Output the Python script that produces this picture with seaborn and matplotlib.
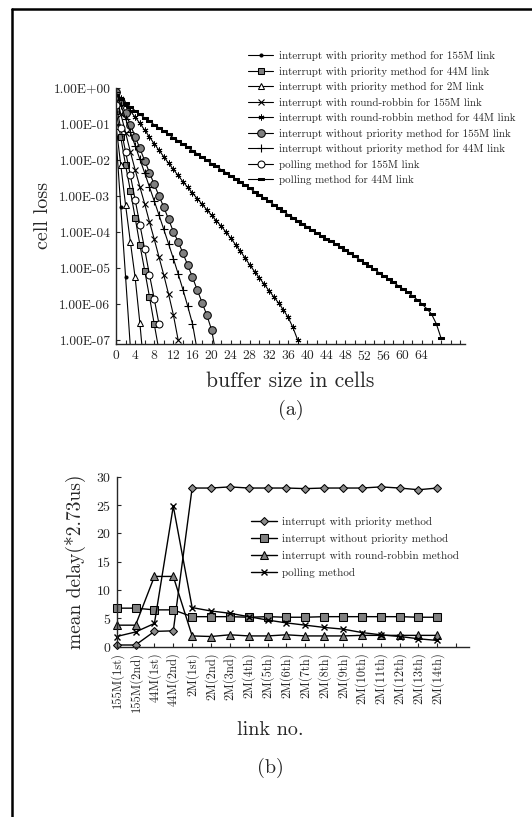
import numpy as np
import matplotlib
matplotlib.use("Agg")
import matplotlib.pyplot as plt
from matplotlib.lines import Line2D
from matplotlib.ticker import MultipleLocator, NullLocator
import seaborn as sns

# ---- (a) cell loss vs buffer size, values given as log10(cell loss) ----
x_prio155 = [0, 1, 2, 3]
e_prio155 = [-1.35, -3.31, -5.24, -7.2]

x_prio44 = [0, 1, 2, 3, 4, 5, 6, 7, 8, 9]
e_prio44 = [-0.63, -1.37, -2.14, -2.85, -3.6, -4.36, -5.07, -5.8, -6.56, -7.3]

x_prio2 = [0, 1, 2, 3, 4, 5, 6]
e_prio2 = [-1.05, -2.14, -3.25, -4.27, -5.26, -6.54, -8.0]

x_rr155 = list(range(14))
e_rr155 = [-0.2, -0.72, -1.24, -1.77, -2.27, -2.75, -3.22, -3.72, -4.2, -4.7,
           -5.2, -5.73, -6.3, -7.0]

x_rr44 = list(range(39))
e_rr44 = [-0.10, -0.28, -0.46, -0.64, -0.81, -0.98, -1.17, -1.36, -1.55, -1.73,
          -1.91, -2.09, -2.26, -2.43, -2.60, -2.76, -2.92, -3.07, -3.23, -3.38,
          -3.54, -3.69, -3.84, -4.00, -4.17, -4.35, -4.53, -4.72, -4.92, -5.10,
          -5.28, -5.45, -5.63, -5.80, -5.97, -6.16, -6.37, -6.65, -7.0]

x_noprio155 = list(range(22))
e_noprio155 = [-0.1, -0.38, -0.7, -1.02, -1.35, -1.68, -2.02, -2.35, -2.68, -3.0,
               -3.31, -3.65, -3.99, -4.27, -4.59, -4.92, -5.26, -5.61, -5.96, -6.31,
               -6.72, -7.45]

x_noprio44 = list(range(18))
e_noprio44 = [-0.1, -0.47, -0.85, -1.22, -1.6, -1.98, -2.36, -2.75, -3.14, -3.53,
              -3.93, -4.33, -4.74, -5.16, -5.6, -6.06, -6.55, -7.3]

x_poll155 = list(range(10))
e_poll155 = [-0.47, -1.12, -1.77, -2.42, -3.1, -3.8, -4.48, -5.19, -5.86, -6.56]

x_poll44 = list(range(69))
e_poll44 = [-0.20, -0.31, -0.42, -0.52, -0.63, -0.73, -0.83, -0.93, -1.02, -1.11,
            -1.20, -1.29, -1.38, -1.47, -1.56, -1.65, -1.74, -1.83, -1.92, -2.01,
            -2.10, -2.18, -2.27, -2.35, -2.44, -2.52, -2.61, -2.70, -2.79, -2.88,
            -2.97, -3.06, -3.15, -3.24, -3.34, -3.43, -3.52, -3.60, -3.69, -3.77,
            -3.86, -3.95, -4.03, -4.11, -4.19, -4.26, -4.34, -4.42, -4.50, -4.59,
            -4.68, -4.77, -4.86, -4.95, -5.04, -5.13, -5.22, -5.31, -5.40, -5.49,
            -5.58, -5.67, -5.77, -5.88, -6.00, -6.13, -6.28, -6.55, -6.95]

ytick_labels_a = ["1.00E+00", "1.00E-01", "1.00E-02", "1.00E-03",
                  "1.00E-04", "1.00E-05", "1.00E-06", "1.00E-07"]

# ---- (b) mean delay per link ----
links = ["155M(1st)", "155M(2nd)", "44M(1st)", "44M(2nd)", "2M(1st)", "2M(2nd)",
         "2M(3nd)", "2M(4th)", "2M(5th)", "2M(6th)", "2M(7th)", "2M(8th)",
         "2M(9th)", "2M(10th)", "2M(11th)", "2M(12th)", "2M(13th)", "2M(14th)"]
d_prio = [0.3, 0.3, 2.7, 2.8, 28.0, 28.0, 28.2, 28.0, 28.0, 28.0, 27.9, 28.0,
          28.0, 28.0, 28.2, 28.0, 27.7, 28.0]
d_noprio = [6.8, 6.8, 6.5, 6.5, 5.3, 5.3, 5.3, 5.2, 5.3, 5.2, 5.2, 5.3,
            5.3, 5.3, 5.3, 5.3, 5.2, 5.2]
d_rr = [3.8, 3.8, 12.4, 12.4, 1.9, 1.8, 2.1, 1.9, 1.9, 2.1, 1.9, 1.9,
        1.9, 2.0, 2.0, 2.0, 2.0, 2.0]
d_poll = [1.8, 2.6, 4.1, 24.8, 6.9, 6.3, 5.9, 5.3, 4.7, 4.2, 3.8, 3.4,
          3.1, 2.5, 2.1, 1.8, 1.4, 1.1]

sns.set_style("ticks")
plt.rcParams["font.family"] = ["cmr10", "DejaVu Serif"]
plt.rcParams["axes.formatter.use_mathtext"] = True

fig = plt.figure(figsize=(5.32, 8.17), dpi=100)

# frame around the figure (left and top edges visible)
fig.add_artist(Line2D([12 / 532, 12 / 532], [0, 1 - 9 / 817], transform=fig.transFigure,
                      color="black", lw=1.8))
fig.add_artist(Line2D([12 / 532, 1], [1 - 9 / 817, 1 - 9 / 817], transform=fig.transFigure,
                      color="black", lw=1.8))

ax1 = fig.add_axes([116 / 532, 1 - 343.6 / 817, 349 / 532, 255.6 / 817])

rect = [(-1, -0.45), (1, -0.45), (1, 0.45), (-1, 0.45), (-1, -0.45)]
series_a = [
    (x_prio155, e_prio155, "interrupt with priority method for 155M link",
     dict(marker="o", markersize=2.2, markerfacecolor="black")),
    (x_prio44, e_prio44, "interrupt with priority method for 44M link",
     dict(marker="s", markersize=5, markerfacecolor="#808080")),
    (x_prio2, e_prio2, "interrupt with priority method for 2M link",
     dict(marker="^", markersize=5, markerfacecolor="white")),
    (x_rr155, e_rr155, "interrupt with round-robbin for 155M link",
     dict(marker="x", markersize=4, markeredgewidth=0.8)),
    (x_rr44, e_rr44, "interrupt with round-robbin method for 44M link",
     dict(marker=(6, 2, 0), markersize=4.2, markeredgewidth=0.7)),
    (x_noprio155, e_noprio155, "interrupt without priority method for 155M link",
     dict(marker="o", markersize=5.5, markerfacecolor="#808080")),
    (x_noprio44, e_noprio44, "interrupt without priority method for 44M link",
     dict(marker="+", markersize=6, markeredgewidth=0.8)),
    (x_poll155, e_poll155, "polling method for 155M link",
     dict(marker="o", markersize=5, markerfacecolor="white")),
    (x_poll44, e_poll44, "polling method for 44M link",
     dict(marker=rect, markersize=4, markerfacecolor="black")),
]
for xs, es, lab, mk in series_a:
    sns.lineplot(x=xs, y=10.0 ** np.array(es), ax=ax1, color="black", lw=0.8,
                 markeredgecolor="black", label=lab, **mk)

ax1.set_yscale("log")
ax1.set_xlim(0, 73)
ax1.set_ylim(10 ** -7.1, 1.0)
ax1.set_yticks([10.0 ** -k for k in range(8)])
ax1.set_yticklabels(ytick_labels_a)
ax1.yaxis.set_minor_locator(NullLocator())
ax1.set_xticks(range(0, 65, 4))
ax1.xaxis.set_minor_locator(MultipleLocator(2))
ax1.tick_params(axis="both", which="both", direction="in", length=3, width=0.8,
                labelsize=9.7, pad=4)
ax1.set_xlabel("buffer size in cells", fontsize=15.5)
ax1.set_ylabel("cell loss", fontsize=14.5)
ax1.xaxis.label.set_va("center")
ax1.yaxis.label.set_va("center")
ax1.xaxis.set_label_coords(0.5, (343.6 - 381) / 255.6)
ax1.yaxis.set_label_coords((43 - 116) / 349, 0.5)
sns.despine(ax=ax1)
for s in ax1.spines.values():
    s.set_linewidth(1.0)
ax1.legend(loc="upper left", bbox_to_anchor=(248 / 532, 1 - 51 / 817),
           bbox_transform=fig.transFigure, frameon=False, fontsize=7.9,
           handlelength=2.3, handletextpad=0.5, labelspacing=0.5,
           borderaxespad=0, borderpad=0)
fig.text(291 / 532, 1 - 410 / 817, "(a)", fontsize=14.5, ha="center", va="center")

# ---- panel (b) ----
ax2 = fig.add_axes([116.7 / 532, 1 - 646.7 / 817, (469.4 - 116.7) / 532, 170 / 817])
pos = np.arange(len(links))
series_b = [
    (d_prio, "interrupt with priority method",
     dict(marker="D", markersize=3.8, markerfacecolor="#8c8c8c")),
    (d_noprio, "interrupt without priority method",
     dict(marker="s", markersize=5.5, markerfacecolor="#808080")),
    (d_rr, "interrupt with round-robbin method",
     dict(marker="^", markersize=5.5, markerfacecolor="#808080")),
    (d_poll, "polling method",
     dict(marker="x", markersize=4.5, markeredgewidth=1.0)),
]
for vals, lab, mk in series_b:
    sns.lineplot(x=pos, y=vals, ax=ax2, color="black", lw=1.0,
                 markeredgecolor="black", label=lab, clip_on=False, **mk)

ax2.set_xlim(0, 18.7)
ax2.set_ylim(0, 30)
ax2.set_xticks(np.arange(19))
ax2.set_xticklabels(links + [""], rotation=90, fontsize=9)
ax2.set_yticks(range(0, 31, 5))
ax2.tick_params(axis="both", direction="in", length=3, width=0.8, pad=4)
ax2.tick_params(axis="y", labelsize=10)
ax2.set_xlabel("link no.", fontsize=14.5)
ax2.set_ylabel("mean delay(*2.73us)", fontsize=14)
ax2.xaxis.label.set_va("center")
ax2.yaxis.label.set_va("center")
ax2.xaxis.set_label_coords((270 - 116.7) / 352.7, (646.7 - 730) / 170)
ax2.yaxis.set_label_coords((75 - 116.7) / 352.7, 0.5)
sns.despine(ax=ax2)
for s in ax2.spines.values():
    s.set_linewidth(1.0)
ax2.legend(loc="upper left", bbox_to_anchor=(251 / 532, 1 - 517 / 817),
           bbox_transform=fig.transFigure, frameon=False, fontsize=8.0,
           handlelength=2.3, handletextpad=0.5, labelspacing=0.62,
           borderaxespad=0, borderpad=0)
fig.text(270 / 532, 1 - 768 / 817, "(b)", fontsize=14.5, ha="center", va="center")

fig.savefig("out.png", dpi=100)
